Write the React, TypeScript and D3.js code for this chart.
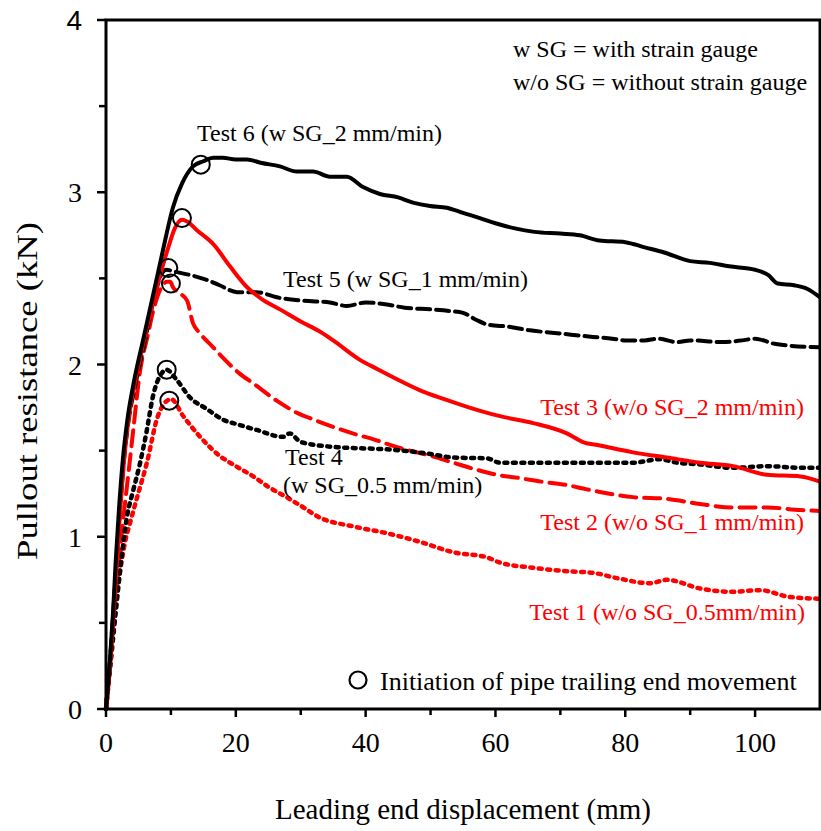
import React from 'react';
import * as d3 from 'd3';

// ---------- data ----------
const test6: [number, number][] = [[0,0],[0.6,0.28],[1.1,0.57],[1.5,0.86],[2.0,1.16],[2.6,1.45],[3.3,1.68],[4.2,1.88],[5.7,2.14],[7,2.36],[8.0,2.53],[9.1,2.72],[10.3,2.91],[11.7,3.05],[13.4,3.15],[15,3.18],[16.5,3.2],[18,3.2],[20,3.19],[21.7,3.19],[24,3.17],[26.8,3.15],[29.4,3.12],[31.9,3.12],[34.5,3.09],[37.1,3.09],[39.6,3.03],[42.2,2.99],[45,2.97],[47.3,2.94],[49.9,2.92],[52.5,2.91],[55,2.88],[57.6,2.85],[60,2.82],[63,2.79],[66,2.77],[70,2.76],[73,2.75],[76,2.72],[80,2.71],[83,2.68],[86,2.65],[90,2.60],[93,2.59],[96,2.57],[100,2.55],[102,2.52],[103.5,2.47],[106,2.46],[108,2.44],[110,2.39]];
const test5: [number, number][] = [[0,0],[0.6,0.27],[1.1,0.55],[1.6,0.84],[2.1,1.12],[2.7,1.42],[3.5,1.68],[4.4,1.86],[5.9,2.12],[7.5,2.4],[8.5,2.52],[9.3,2.55],[10.5,2.54],[12.9,2.52],[15.6,2.49],[17.5,2.46],[20.2,2.42],[23.2,2.42],[26.3,2.39],[30.4,2.37],[34.5,2.36],[37.1,2.34],[40,2.36],[43,2.35],[46,2.33],[50,2.32],[53,2.31],[55,2.30],[57,2.26],[59,2.23],[62,2.22],[65,2.20],[70,2.18],[75,2.16],[78,2.15],[80,2.14],[83,2.14],[85,2.15],[88,2.13],[90,2.14],[95,2.13],[98,2.14],[100,2.15],[103,2.12],[105,2.11],[110,2.10]];
const test3: [number, number][] = [[0,0],[0.7,0.28],[1.2,0.57],[1.7,0.86],[2.2,1.16],[2.8,1.45],[3.6,1.72],[4.6,1.92],[6.2,2.2],[8.2,2.5],[9.6,2.68],[10.6,2.79],[11.7,2.84],[12.5,2.83],[14,2.78],[16.5,2.70],[19.1,2.57],[21.7,2.45],[24,2.38],[26.8,2.32],[30,2.25],[33,2.19],[35,2.14],[39,2.03],[42,1.97],[44,1.93],[48.4,1.85],[52,1.80],[56,1.75],[60.7,1.70],[65.8,1.66],[71,1.60],[73.5,1.55],[76.1,1.53],[81.2,1.49],[86.4,1.46],[91.5,1.43],[96.6,1.41],[101.8,1.36],[107,1.35],[110,1.32]];
const test2: [number, number][] = [[0,0],[0.4,0.17],[1.1,0.5],[2.0,0.85],[2.6,1.08],[3.4,1.35],[4.2,1.62],[5.2,1.95],[6.5,2.18],[7.2,2.3],[8.3,2.43],[9.4,2.48],[9.9,2.48],[10.3,2.45],[11.5,2.41],[12.5,2.37],[13.4,2.24],[14.5,2.18],[16.5,2.1],[18,2.04],[20.5,1.95],[22.7,1.89],[26.3,1.79],[29.4,1.72],[32,1.68],[35.6,1.63],[38,1.60],[41.7,1.56],[44,1.53],[46.8,1.50],[50,1.47],[53.5,1.43],[57,1.39],[60.2,1.36],[63.8,1.34],[67,1.32],[71,1.30],[73.5,1.28],[76.1,1.26],[81.2,1.23],[86.4,1.22],[91.5,1.19],[96.6,1.17],[101.8,1.17],[107,1.155],[110,1.15]];
const test4: [number, number][] = [[0,0],[0.8,0.3],[1.6,0.6],[2.4,0.88],[3.2,1.11],[4.2,1.27],[5.2,1.42],[6.3,1.62],[7.2,1.81],[8.6,1.95],[9.3,1.97],[10.9,1.91],[12.9,1.81],[15.6,1.74],[18,1.68],[20.5,1.65],[23.2,1.62],[27.3,1.58],[28.3,1.60],[30,1.55],[35.6,1.52],[38.1,1.515],[42,1.51],[45.8,1.50],[50,1.48],[53.5,1.46],[58.7,1.455],[60.7,1.43],[65.8,1.43],[71,1.43],[76.1,1.43],[81.2,1.43],[85.3,1.45],[88,1.43],[91.5,1.42],[96.6,1.40],[101.8,1.41],[107,1.40],[110,1.40]];
const test1: [number, number][] = [[0,0],[0.4,0.17],[1.1,0.45],[2.1,0.78],[3.0,0.98],[3.7,1.08],[4.8,1.23],[6.3,1.43],[7.9,1.69],[9.4,1.79],[10,1.8],[11.9,1.70],[14.5,1.58],[17.5,1.47],[20,1.41],[22.7,1.35],[25,1.29],[27.8,1.23],[30,1.18],[33,1.11],[38.1,1.06],[43.3,1.02],[48.4,0.97],[53.5,0.91],[58.7,0.88],[60.7,0.85],[65.8,0.82],[71,0.80],[75.1,0.79],[78.7,0.76],[83.8,0.73],[86.4,0.75],[91.5,0.70],[96.6,0.68],[100.7,0.69],[105.4,0.65],[110,0.64]];

const markers: [number, number][] = [[14.6,3.16],[11.7,2.85],[9.6,2.56],[10.0,2.47],[9.35,1.97],[9.75,1.79]];

const xMajorTicks = [0, 20, 40, 60, 80, 100];
const xMinorTicks = [10, 30, 50, 70, 90];
const yMajorTicks = [0, 1, 2, 3, 4];
const yMinorTicks = [0.5, 1.5, 2.5, 3.5];

const serif = '"Liberation Serif", "Times New Roman", Times, serif';

export default function App() {
  const x = d3.scaleLinear().domain([0, 110]).range([106, 820]);
  const y = d3.scaleLinear().domain([0, 4]).range([709, 20]);
  const line = d3.line<[number, number]>().x(d => x(d[0])).y(d => y(d[1])).curve(d3.curveMonotoneX);

  const series = [
    { data: test1, color: '#ff0000', dash: '3 5.5', width: 4.5 },
    { data: test2, color: '#ff0000', dash: '16 8', width: 4 },
    { data: test4, color: '#000000', dash: '3 5.5', width: 4.5 },
    { data: test5, color: '#000000', dash: '13 6', width: 4 },
    { data: test3, color: '#ff0000', dash: null, width: 4 },
    { data: test6, color: '#000000', dash: null, width: 4 },
  ];

  return (
    <svg width={821} height={831} style={{ position: 'absolute', left: 0, top: 0, background: '#fff' }}
      fontFamily={serif}>
      <rect x={0} y={0} width={821} height={831} fill="#fff" />
      {series.map((s, i) => (
        <path key={i} d={line(s.data) || ''} fill="none" stroke={s.color} strokeWidth={s.width}
          strokeDasharray={s.dash || undefined} strokeLinecap={s.dash ? 'round' : 'butt'} strokeLinejoin="round" />
      ))}
      {markers.map((m, i) => (
        <circle key={i} cx={x(m[0])} cy={y(m[1])} r={9} fill="none" stroke="#000" strokeWidth={2} />
      ))}
      {/* frame */}
      <rect x={x(0)} y={y(4)} width={x(110) - x(0)} height={y(0) - y(4)} fill="none" stroke="#000" strokeWidth={3} />
      {xMajorTicks.map(t => (
        <g key={'xm' + t}>
          <line x1={x(t)} x2={x(t)} y1={y(0)} y2={y(0) + 8} stroke="#000" strokeWidth={2.5} />
          <text x={x(t)} y={752} textAnchor="middle" fontSize={28}>{t}</text>
        </g>
      ))}
      {xMinorTicks.map(t => (
        <line key={'xn' + t} x1={x(t)} x2={x(t)} y1={y(0)} y2={y(0) + 6} stroke="#000" strokeWidth={2.5} />
      ))}
      {yMajorTicks.map(t => (
        <g key={'ym' + t}>
          <line x1={x(0) - 9} x2={x(0)} y1={y(t)} y2={y(t)} stroke="#000" strokeWidth={2.5} />
          <text x={82} y={y(t) + 10} textAnchor="end" fontSize={28}
            fontFamily={t === 4 ? '"Liberation Sans", Arial, sans-serif' : serif}>{t}</text>
        </g>
      ))}
      {yMinorTicks.map(t => (
        <line key={'yn' + t} x1={x(0) - 7} x2={x(0)} y1={y(t)} y2={y(t)} stroke="#000" strokeWidth={2.5} />
      ))}
      {/* axis titles */}
      <text x={463} y={819} textAnchor="middle" fontSize={29}>Leading end displacement (mm)</text>
      <text transform="translate(37,391) rotate(-90)" textAnchor="middle" fontSize={30}
        textLength={338} lengthAdjust="spacingAndGlyphs">Pullout resistance (kN)</text>
      {/* notes */}
      <text x={513} y={57} fontSize={24}>w SG = with strain gauge</text>
      <text x={513} y={90} fontSize={24}>w/o SG = without strain gauge</text>
      {/* annotations */}
      <text x={197} y={141} fontSize={24}>Test 6 (w SG_2 mm/min)</text>
      <text x={283} y={287} fontSize={24}>Test 5 (w SG_1 mm/min)</text>
      <text x={285} y={465} fontSize={24}>Test 4</text>
      <text x={283} y={493} fontSize={24}>(w SG_0.5 mm/min)</text>
      <text x={804} y={415} fontSize={24} textAnchor="end" fill="#ff0000">Test 3 (w/o SG_2 mm/min)</text>
      <text x={804} y={530} fontSize={24} textAnchor="end" fill="#ff0000">Test 2 (w/o SG_1 mm/min)</text>
      <text x={805} y={620} fontSize={24} textAnchor="end" fill="#ff0000">Test 1 (w/o SG_0.5mm/min)</text>
      {/* legend */}
      <circle cx={358} cy={680} r={8.5} fill="none" stroke="#000" strokeWidth={2.2} />
      <text x={380} y={690} fontSize={26}>Initiation of pipe trailing end movement</text>
    </svg>
  );
}
